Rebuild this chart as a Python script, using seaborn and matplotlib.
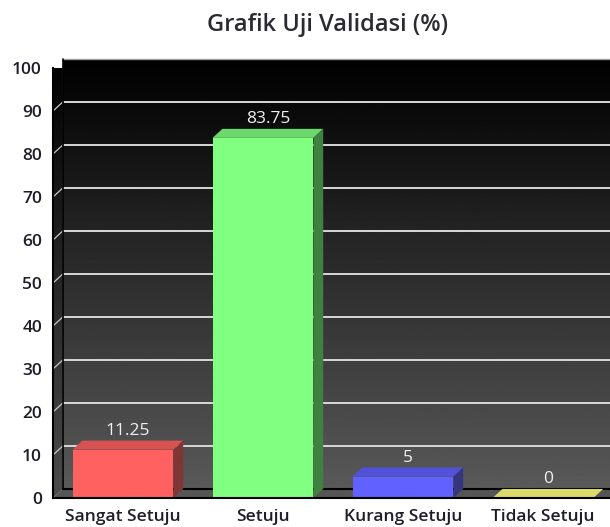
# 3D-style bar chart of validation test results, drawn with seaborn + matplotlib patches.
import numpy as np
import pandas as pd
import seaborn as sns
import matplotlib
matplotlib.use('Agg')
import matplotlib.pyplot as plt
from matplotlib.patches import Polygon

categories = ["Sangat Setuju", "Setuju", "Kurang Setuju", "Tidak Setuju"]
values = [11.25, 83.75, 5, 0]
front_colors = ["#ff6161", "#80ff80", "#6161ff", "#e6e680"]
top_colors = ["#d95252", "#6cd96c", "#5252d9", "#d9d96c"]
side_colors = ["#803636", "#408040", "#36367f", "#80803f"]
yticks = list(range(0, 101, 10))

sns.set_theme(style="white")
plt.rcParams['font.family'] = ['Open Sans', 'DejaVu Sans']

df = pd.DataFrame({"kategori": categories, "nilai": values})

fig = plt.figure(figsize=(6.10, 5.27), dpi=100)
W, H = 610, 527
ax = fig.add_axes([53 / W, 29 / H, 560 / W, 430 / H])

sns.barplot(data=df, x="kategori", y="nilai", hue="kategori",
            palette=front_colors, legend=False, width=0.72,
            saturation=1, ax=ax, zorder=3, linewidth=0)

ax.set_xlim(-0.5, 3.5)
ax.set_ylim(0, 100)

# depth offsets (data units)
dx, dy = 0.07, 2.1
x0, x1 = -0.5, 3.5

# back wall gradient: grey at the floor, black at the top
grad = np.linspace(0.35, 0.0, 256).reshape(-1, 1)
ax.imshow(grad, cmap="gray", vmin=0, vmax=1, origin="lower", aspect="auto",
          extent=[x0 + dx, x1 + dx, dy, 100 + dy], zorder=0, clip_on=False)
ax.plot([x0 + dx, x1 + dx], [100 + dy, 100 + dy], color="#a0a0a0", lw=1, zorder=1, clip_on=False)

# left side wall gradient, clipped to its polygon
side = Polygon([(x0, 0), (x0 + dx, dy), (x0 + dx, 100 + dy), (x0, 100)],
               closed=True, facecolor="none", edgecolor="none", transform=ax.transData)
ax.add_patch(side)
im = ax.imshow(grad * 0.85, cmap="gray", vmin=0, vmax=1, origin="lower", aspect="auto",
               extent=[x0, x0 + dx, 0, 100 + dy], zorder=0.5, clip_on=True)
im.set_clip_path(side)
ax.plot([x0 + dx, x0 + dx], [dy, 100 + dy], color="#000000", lw=1.2, zorder=1.2, clip_on=False)

# floor
ax.add_patch(Polygon([(x0, 0), (x0 + dx, dy), (x1 + dx, dy), (x1, 0)], closed=True,
                     facecolor="#555555", edgecolor="none", zorder=1, clip_on=False))
ax.plot([x0 + dx, x1 + dx], [dy, dy], color="#000000", lw=1.5, zorder=1.2, clip_on=False)

# grid lines on the back wall and the side wall
for t in yticks[1:-1]:
    ax.plot([x0 + dx, x1 + dx], [t + dy, t + dy], color="#d8d8d8", lw=1.4, zorder=1, clip_on=False)
    ax.plot([x0, x0 + dx], [t, t + dy], color="#c8c8c8", lw=0.9, zorder=1, clip_on=False)

# 3D faces and value labels for each bar
for p, v, tc, sc in zip(ax.patches[:len(values)], values, top_colors, side_colors):
    bx, bw, bh = p.get_x(), p.get_width(), p.get_height()
    ax.add_patch(Polygon([(bx, bh), (bx + dx, bh + dy), (bx + bw + dx, bh + dy), (bx + bw, bh)],
                         closed=True, facecolor=tc, edgecolor="none", zorder=3.5, clip_on=False))
    ax.add_patch(Polygon([(bx + bw, 0), (bx + bw + dx, dy), (bx + bw + dx, bh + dy), (bx + bw, bh)],
                         closed=True, facecolor=sc, edgecolor="none", zorder=3.5, clip_on=False))
    lab = f"{v:g}"
    ax.text(bx + bw / 2 + dx / 2, bh + dy + 0.4, lab, ha="center", va="bottom",
            color="#f0f0f0", fontsize=12.5, zorder=5)

# front-left wall edge and bottom edge
for s in ["top", "right"]:
    ax.spines[s].set_visible(False)
for s in ["left", "bottom"]:
    ax.spines[s].set_visible(True)
    ax.spines[s].set_color("#000000")
    ax.spines[s].set_linewidth(1.5)
    ax.spines[s].set_zorder(4)

ax.set_yticks(yticks)
ax.set_yticklabels([str(t) for t in yticks], fontsize=12.5, fontweight="semibold", color="#1e1e28")
ax.set_xticks(range(len(categories)))
ax.set_xticklabels(categories, fontsize=12.5, fontweight="semibold", color="#1e1e28")
ax.tick_params(axis="y", length=0, pad=8)
ax.tick_params(axis="x", length=0, pad=8)
ax.set_xlabel("")
ax.set_ylabel("")
ax.set_facecolor("none")

fig.text(328 / W, 1 - 25 / H, "Grafik Uji Validasi (%)", ha="center", va="center",
         fontsize=17, fontweight="semibold", color="#2a2a30")

fig.savefig("out.png", dpi=100)
